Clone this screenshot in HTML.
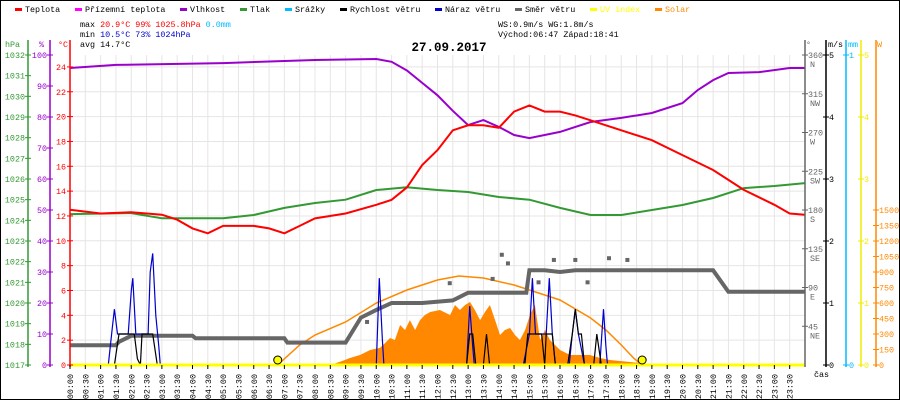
<!DOCTYPE html>
<html><head><meta charset="utf-8"><style>
html,body{margin:0;padding:0;background:#fff}
svg{display:block}
text{font-family:"Liberation Mono",monospace;font-size:8.4px}
</style></head><body>
<svg id="c" width="900" height="400" viewBox="0 0 900 400">
<rect x="0.5" y="0.5" width="899" height="399" fill="#fff" stroke="#000"/>
<g id="legend"></g>
<g id="grid"></g>
<g id="series"></g>
<g id="axes"></g>
<text x="449" y="51" text-anchor="middle" style="font-size:12.5px;font-weight:bold">27.09.2017</text>
<g>
<text x="80" y="27"><tspan fill="#000">max </tspan><tspan fill="#f00">20.9°C  99%  1025.8hPa</tspan><tspan fill="#0bf">   0.0mm</tspan></text>
<text x="80" y="37"><tspan fill="#000">min </tspan><tspan fill="#00c">10.5°C  73%  1024hPa</tspan></text>
<text x="80" y="47">avg 14.7°C</text>
<text x="498" y="27">WS:0.9m/s   WG:1.8m/s</text>
<text x="498" y="37">Východ:06:47 Západ:18:41</text>
</g>
</svg>
<script>
const temperatureTimes=[0,1,2,3,3.5,4,4.5,5,6,6.5,7,7.5,8,9,10,10.5,11,11.5,12,12.5,13,13.5,14,14.5,15,15.5,16,16.5,17,17.5,18,19,20,21,21.5,22,22.5,23,23.5,24];
const temperatureVals=[12.5,12.2,12.3,12.1,11.7,11.0,10.6,11.2,11.2,11.0,10.6,11.2,11.8,12.2,12.9,13.3,14.3,16.1,17.3,18.9,19.3,19.3,19.1,20.4,20.9,20.4,20.4,20.1,19.7,19.3,18.9,18.1,16.9,15.7,14.9,14.1,13.5,12.9,12.2,12.1];
const humidityTimes=[0,1.5,5,8,10,10.5,11,11.5,12,12.5,13,13.5,14,14.5,15,16,17,18,19,20,20.5,21,21.5,22.5,23.5,24];
const humidityVals=[95.8,96.8,97.4,98.4,98.7,97.8,95,91,87,82,77.4,79,76.8,74.2,73.2,75.2,78.4,79.7,81.3,84.5,88.7,91.9,94.2,94.5,95.8,95.8];
const pressureTimes=[0,2,3,5,6,7,8,9,10,11,12,13,14,15,16,17,18,19,20,21,22,23,24];
const pressureVals=[1024.3,1024.35,1024.1,1024.1,1024.26,1024.6,1024.84,1025.0,1025.47,1025.6,1025.47,1025.37,1025.13,1025.0,1024.6,1024.26,1024.26,1024.5,1024.74,1025.08,1025.56,1025.66,1025.8];
const dirTimes=[0,1.5,1.6,2.0,4.0,4.1,7.0,7.1,9.0,9.5,10.0,10.5,11.5,12.5,13.0,14.0,14.9,15.0,15.5,16.0,16.5,17.0,17.5,18.0,21.0,21.5,24.0];
const dirVals=[23,23,27,34,34,31,31,26,26,55,64,72,72,75,84,84,84,110,110,108,110,110,110,110,110,85,85];
const dirScatterTimes=[9.7,12.4,13.8,14.1,14.3,15.3,15.8,16.5,16.9,17.6,18.2];
const dirScatterVals=[50,95,100,128,118,96,122,122,96,124,122];
const speedTimes=[0,1.45,1.6,2.1,2.2,2.3,2.35,2.7,2.85,12.95,13.05,13.15,13.25,13.5,13.6,13.7,14.85,14.95,15.4,15.5,15.55,15.75,15.85,16.25,16.4,16.5,16.6,16.7,16.8,17.1,17.2,17.35,24];
const speedVals=[0,0,0.5,0.5,0.1,0,0.5,0.5,0,0,0.5,0.5,0,0,0.5,0,0,0.5,0.5,0,0.5,0.5,0,0,0.5,0.9,0.5,0.5,0,0,0.5,0,0];
const gustTimes=[0,1.25,1.38,1.45,1.55,1.9,2.0,2.05,2.15,2.55,2.62,2.7,2.8,2.9,2.95,10.0,10.05,10.1,10.2,10.25,12.95,13.05,13.15,13.2,14.8,15.0,15.1,15.2,15.55,15.65,15.75,15.85,16.3,16.4,16.5,16.6,16.8,17.3,17.42,17.5,17.55,24];
const gustVals=[0,0,0.6,0.9,0.5,0.5,1.2,1.4,0.5,0.5,1.5,1.8,0.8,0.3,0,0,0.7,1.4,0.4,0,0,0.95,0.3,0,0,0.5,1.4,0.5,0.5,1.4,0.5,0,0,0.5,0.9,0.5,0,0,0.9,0.3,0,0];
const solarTimes=[8.5,8.9,9.14,9.47,9.8,10.12,10.29,10.45,10.61,10.78,10.94,11.1,11.27,11.43,11.59,11.76,12.08,12.41,12.57,12.73,12.9,13.06,13.22,13.39,13.55,13.71,13.88,14.04,14.2,14.37,14.53,14.69,14.86,15.02,15.18,15.35,15.51,15.67,15.84,16.0,16.33,16.98,17.31,17.63,17.96,18.61,18.8];
const solarVals=[0,40,68,97,145,165,213,261,242,387,339,435,339,435,484,513,532,484,581,532,581,610,532,435,513,581,435,290,339,358,290,242,339,484,581,242,339,242,194,145,97,97,68,48,39,19,0];
const solarMaxTimes=[6.78,7.5,8,9,10,11,12,12.7,13.5,14.5,15,16,17,17.5,18,18.4,18.68];
const solarMaxVals=[0,194,290,416,600,726,823,861,842,774,726,629,455,339,194,68,0];
const sunEvents=[6.783,18.683];
const tempTicks=[0,2,4,6,8,10,12,14,16,18,20,22,24];
const humTicks=[0,10,20,30,40,50,60,70,80,90,100];
const presTicks=[1017,1018,1019,1020,1021,1022,1023,1024,1025,1026,1027,1028,1029,1030,1031,1032];
const dirTicks=[45,90,135,180,225,270,315,360];
const dirNames=["NE","E","SE","S","SW","W","NW","N"];
const msTicks=[0,1,2,3,4,5];
const mmTicks=[0,1];
const uvTicks=[0,1,2,3,4,5];
const solarTicks=[0,150,300,450,600,750,900,1050,1200,1350,1500];

const NS="http://www.w3.org/2000/svg";
const X0=70,X1=805,Y0=365,Y1=55;
const xT=t=>X0+(X1-X0)*t/24;
const yTemp=v=>Y0-v*12.42;
const yHum=v=>Y0-v*(Y0-Y1)/100;
const yPres=v=>Y0-(v-1017)*(Y0-Y1)/15;
const yDir=v=>Y0-v*(Y0-Y1)/360;
const yMs=v=>Y0-v*(Y0-Y1)/5;
const yMm=v=>Y0-v*(Y0-Y1);
const yUv=v=>Y0-v*(Y0-Y1)/5;
const ySol=v=>Y0-v*(Y0-Y1)/3000;
function el(tag,attrs,parent){const e=document.createElementNS(NS,tag);for(const k in attrs)e.setAttribute(k,attrs[k]);parent.appendChild(e);return e;}
function txt(x,y,s,fill,anchor,parent){const t=el('text',{x:x,y:y,fill:fill,'text-anchor':anchor||'start'},parent);t.textContent=s;return t;}
function pathD(ts,vs,yf){return ts.map((t,i)=>(i?'L':'M')+xT(t).toFixed(1)+' '+yf(vs[i]).toFixed(1)).join(' ');}
const G=document.getElementById('grid'),S=document.getElementById('series'),A=document.getElementById('axes'),L=document.getElementById('legend');

// legend
const legendItems=[["Teplota","#f00",25],["Přízemní teplota","#f0f",85],["Vlhkost","#90c",190],["Tlak","#393",250],["Srážky","#0bf",295],["Rychlost větru","#000",350],["Náraz větru","#00c",445],["Směr větru","#666",525],["UV index","#ff0",600],["Solar","#f80",665]];
legendItems.forEach(it=>{
 const g=el('g',{},L);
 
 
 el('rect',{x:it[2]-10,y:8,width:7,height:3,fill:it[1]},g);
 txt(it[2],12,it[0],(it[1]=="#ff0"||it[1]=="#f80")?it[1]:"#000",'start',g);
});

// grid
for(let i=0;i<=48;i++){const x=xT(i/2);const l=el('line',{x1:x,y1:Y1,x2:x,y2:Y0,stroke:'#e8e4e4'},G);}
tempTicks.forEach(v=>{if(v==0)return;const y=yTemp(v);const l=el('line',{x1:X0,y1:y,x2:X1,y2:y,stroke:'#e8e4e4'},G);});

// solar area
const sa=el('path',{d:'M'+xT(solarTimes[0])+' '+Y0+' '+pathD(solarTimes,solarVals,ySol).replace(/^M/,'L')+' L'+xT(solarTimes[solarTimes.length-1])+' '+Y0+' Z',fill:'#f80'},S);

const sm=el('path',{d:pathD(solarMaxTimes,solarMaxVals,ySol),fill:'none',stroke:'#f80','stroke-width':1.5},S);

// wind direction
const wd=el('path',{d:pathD(dirTimes,dirVals,yDir),fill:'none',stroke:'#666','stroke-width':4},S);

dirScatterTimes.forEach((t,i)=>{const r=el('rect',{x:xT(t)-2,y:yDir(dirScatterVals[i])-2,width:4,height:4,fill:'#666'},S);});
// gust, speed
const gu=el('path',{d:pathD(gustTimes,gustVals,yMs),fill:'none',stroke:'#00c','stroke-width':1.2},S);

const sp=el('path',{d:pathD(speedTimes,speedVals,yMs),fill:'none',stroke:'#000','stroke-width':1.2},S);

// pressure, humidity, temperature
const pr=el('path',{d:pathD(pressureTimes,pressureVals,yPres),fill:'none',stroke:'#393','stroke-width':2},S);

const hu=el('path',{d:pathD(humidityTimes,humidityVals,yHum),fill:'none',stroke:'#90c','stroke-width':2},S);

const te=el('path',{d:pathD(temperatureTimes,temperatureVals,yTemp),fill:'none',stroke:'#f00','stroke-width':2},S);

// baseline UV
const bl=el('line',{x1:X0,y1:Y0,x2:X1,y2:Y0,stroke:'#ff0','stroke-width':3},S);

sunEvents.forEach(t=>{const c=el('circle',{cx:xT(t),cy:Y0-5,r:4,fill:'#ff0',stroke:'#000'},S);});

// axes
function axis(x,col,ticks,yf,labels,lx,anchor,name){
 const g=el('g',{},A);
 
 
 el('line',{x1:x,y1:Y1-15,x2:x,y2:Y0+2,stroke:col,'stroke-width':1.5},g);
 ticks.forEach((v,i)=>{const y=yf(v);el('line',{x1:x-3,y1:y,x2:x+3,y2:y,stroke:col},g);txt(lx,y+3,labels?labels[i]:String(v),col,anchor,g);});
}
axis(28,'#393',presTicks,yPres,null,25,'end','pressure-axis');
axis(50,'#90c',humTicks,yHum,null,47,'end','humidity-axis');
axis(70,'#f00',tempTicks,yTemp,null,66,'end','temperature-axis');
axis(805,'#666',dirTicks,yDir,null,808,'start','wind-direction-axis');
dirTicks.forEach((v,i)=>{const t=txt(810,yDir(v)+12,dirNames[i],'#666','start',A);});
axis(826,'#000',msTicks,yMs,null,829,'start','wind-speed-axis');
axis(846,'#0bf',mmTicks,yMm,null,849,'start','rain-axis');
axis(861,'#ee0',uvTicks,yUv,null,864,'start','uv-axis');
axis(876,'#f80',solarTicks,ySol,null,879,'start','solar-axis');
[["hPa",5,'#393'],["%",39,'#90c'],["°C",58,'#f00'],["°",806,'#666'],["m/s",828,'#000'],["mm",848,'#0bf'],["W",877,'#f80']].forEach(a=>{const t=txt(a[1],47,a[0],a[2],'start',A);});
const cas=txt(814,377,'čas','#000','start',A);
// time labels
for(let i=0;i<48;i++){
 const h=Math.floor(i/2),m=i%2?'30':'00';
 const s=(h<10?'0':'')+h+':'+m;
 const x=xT(i/2);
 el('line',{x1:x,y1:Y0,x2:x,y2:Y0+4,stroke:'#000'},A);
 const t=txt(0,0,s,'#000','end',A);
 t.setAttribute('transform','translate('+(x+3)+','+(Y0+9)+') rotate(-90)');
 
 
}
</script>
</body></html>
